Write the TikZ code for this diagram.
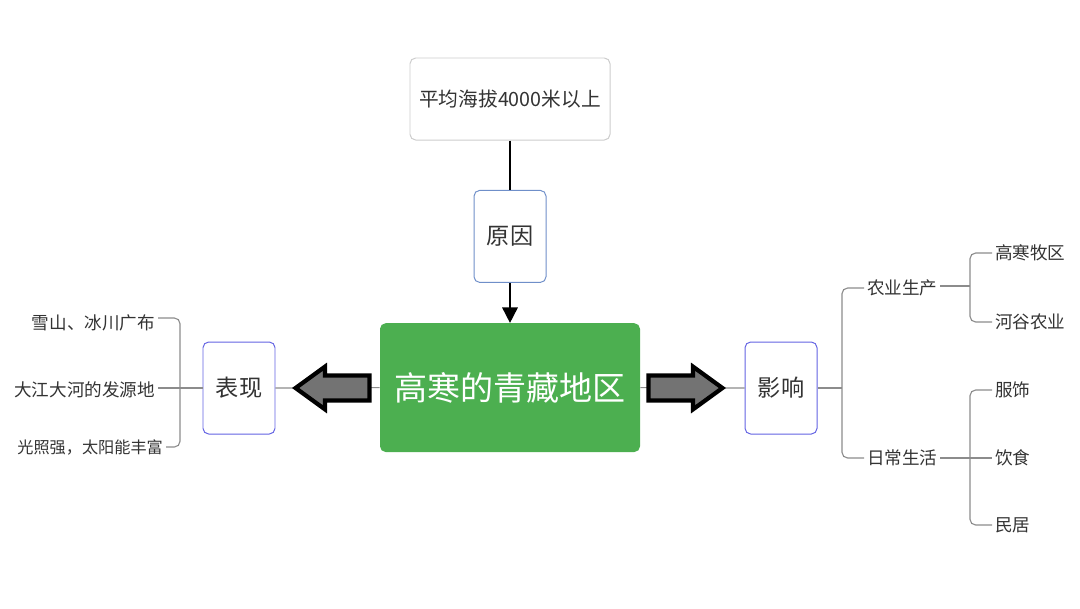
\documentclass[tikz,border=0pt]{standalone}
\usepackage{fontspec}
\setmainfont{Noto Sans CJK SC}
\usetikzlibrary{arrows.meta,shapes.arrows}
\definecolor{topgray}{HTML}{CCCCCC}
\definecolor{causeblue}{HTML}{6F8FC9}
\definecolor{subblue}{HTML}{6363E3}
\definecolor{maingreen}{HTML}{4CAF50}
\definecolor{linegray}{HTML}{8C8C8C}
\definecolor{textgray}{HTML}{333333}
\begin{document}
\begin{tikzpicture}[
box/.style={draw,rounded corners=4pt,line width=0.7pt,fill=white,text=textgray,font=\fontsize{16.5}{19}\selectfont},
topbox/.style={box,draw=topgray,minimum width=5cm,minimum height=2.05cm,font=\fontsize{14}{16}\selectfont},
sub/.style={box,minimum width=1.8cm,minimum height=2.3cm},
mainbox/.style={draw=none,fill=maingreen,rounded corners=4pt,text=white,minimum width=6.5cm,minimum height=3.22cm,font=\fontsize{23.5}{28}\selectfont},
leaf/.style={text=textgray,inner sep=2pt,font=\fontsize{12.5}{15}\selectfont},
branch/.style={draw=linegray,line width=0.8pt,rounded corners=4pt},
blockarrow/.style={single arrow,draw=black,fill=black!55,line width=3pt,inner sep=0pt,inner ysep=0.26cm,minimum height=1.85cm,single arrow head extend=0.22cm,single arrow tip angle=72}
]
\useasboundingbox (0,0) rectangle (27,-15.2);
\node[topbox] (t1) at (12.75,-2.475) {平均海拔4000米以上};
\node[sub,draw=causeblue] (c1) at (12.75,-5.91) {原因};
\node[mainbox] (m0) at (12.75,-9.69) {高寒的青藏地区};
\node[sub,draw=subblue] (s1) at (5.975,-9.7) {表现};
\node[sub,draw=subblue] (s2) at (19.525,-9.7) {影响};
\draw[line width=1.2pt] (t1) -- (c1);
\draw[line width=1.2pt,-{Triangle[width=11pt,length=11pt]}] (c1) -- (m0);
\draw[branch] (m0.west) -- (s1.east);
\draw[branch] (m0.east) -- (s2.west);
\node[blockarrow,shape border rotate=180,anchor=tip] (a1) at (7.3,-9.7) {};
\node[blockarrow,anchor=tip] (a2) at (18.15,-9.7) {};
\node[leaf,anchor=east] (l1) at (3.95,-8.075) {雪山、冰川广布};
\node[leaf,anchor=east] (l2) at (3.95,-9.75) {大江大河的发源地};
\node[leaf,anchor=east,font=\fontsize{11.5}{14}\selectfont] (l3) at (4.15,-11.175) {光照强，太阳能丰富};
\coordinate (lj) at (4.5,-9.7);
\draw[branch] (s1.west) -- (lj) -- (l2.east |- lj);
\draw[branch] (l1.east |- 0,-7.95) -- (lj |- 0,-7.95) -- (lj |- l3.east) -- (l3.east);
\node[leaf,anchor=west] (r1) at (21.6,-7.2) {农业生产};
\node[leaf,anchor=west] (r2) at (21.6,-11.45) {日常生活};
\coordinate (rj) at (21.05,-9.7);
\draw[branch] (s2.east) -- (rj);
\draw[branch] (r1.west) -- (rj |- r1.west) -- (rj |- r2.west) -- (r2.west);
\node[leaf,anchor=west] (q1) at (24.8,-6.325) {高寒牧区};
\node[leaf,anchor=west] (q2) at (24.8,-8.05) {河谷农业};
\node[leaf,anchor=west] (q3) at (24.8,-9.75) {服饰};
\node[leaf,anchor=west] (q4) at (24.8,-11.45) {饮食};
\node[leaf,anchor=west] (q5) at (24.8,-13.125) {民居};
\coordinate (qa) at (24.25,-7.15);
\coordinate (qb) at (24.25,-11.45);
\draw[branch] (r1.east |- qa) -- (qa);
\draw[branch] (q1.west) -- (qa |- q1.west) -- (qa |- q2.west) -- (q2.west);
\draw[branch] (r2.east) -- (q4.west);
\draw[branch] (q3.west) -- (qb |- q3.west) -- (qb |- q5.west) -- (q5.west);
\end{tikzpicture}
\end{document}
